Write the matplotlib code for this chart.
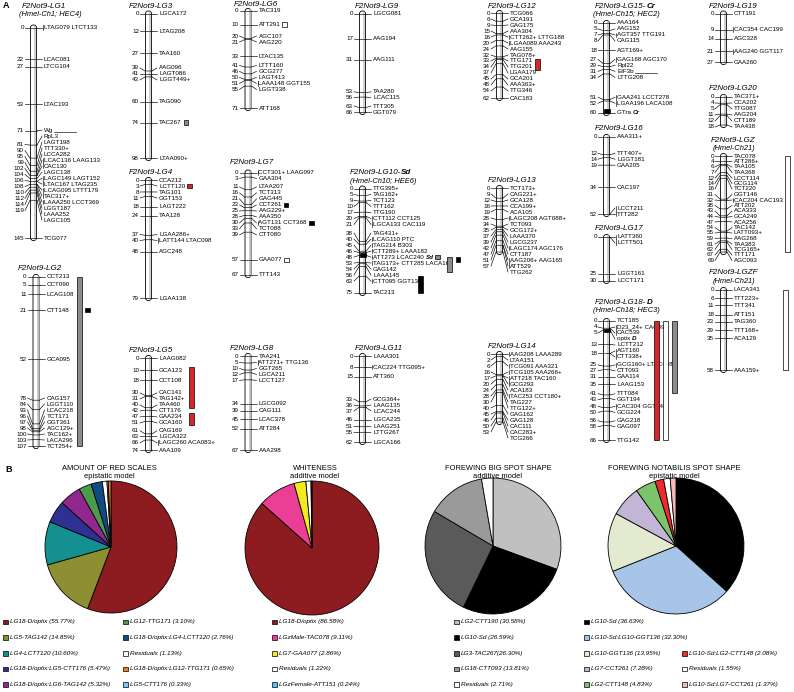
import matplotlib.pyplot as plt
from matplotlib.patches import FancyBboxPatch, Rectangle

plt.rcParams['font.family'] = ['Liberation Sans', 'DejaVu Sans']

# ---------------- linkage groups: (cM, marker) ----------------
# "|" marks a bold-italic suffix (locus name)
lg1 = [(0, 'LTAG079 LTCT133'), (22, 'LCAC081'), (27, 'LTCG104'), (53, 'LTAC193'), (71, 'Wg'),
       (81, 'RpL3'), (90, 'LAGT198'), (95, 'TTT330+'), (99, 'LCCA282'), (102, 'LCAC136 LAAG133'),
       (102, 'CAC130'), (104, 'LAGC138'), (106, 'LAGC149 LAGT152'), (106, 'LTAC167 LTAG235'),
       (108, 'LCAG095 LTTT179'), (108, 'TAC317+'), (110, 'LAAA250 LCCT369'), (112, 'LGGT187'),
       (114, 'LAAA252'), (119, 'LAGC105'), (145, 'TCG077')]
lg2 = [(0, 'CCT213'), (5, 'CCT090'), (11, 'LCAG108'), (21, 'CTT148'), (52, 'GCA095'), (78, 'CAG157'),
       (84, 'LGGT110'), (93, 'LCAC218'), (96, 'TCT171'), (97, 'GGT361'), (98, 'AGC129+'),
       (100, 'TAC162+'), (103, 'LACA296'), (107, 'TCT254+')]
lg3 = [(0, 'LGCA172'), (12, 'LTAG208'), (27, 'TAA160'), (39, 'AAG096'), (41, 'LAGT086'),
       (43, 'LGGT449+'), (60, 'TAG090'), (74, 'TAC267'), (98, 'LTAA090+')]
lg4 = [(0, 'CCA212'), (3, 'LCTT120'), (8, 'TAG101'), (11, 'GGT153'), (18, 'LAGT222'), (24, 'TAA128'),
       (37, 'LGAA286+'), (40, 'LATT144 LTAC098'), (48, 'AGC248'), (79, 'LGAA138')]
lg5 = [(0, 'LAAG082'), (10, 'GCA123'), (18, 'CCT108'), (30, 'CAC141'), (31, 'TAG142+'), (40, 'TAA460'),
       (42, 'CTT176'), (47, 'GAA234'), (51, 'GCA160'), (61, 'CAG169'), (63, 'LGCA322'),
       (66, 'LAGC260 ACA083+'), (74, 'AAA109')]
lg6 = [(0, 'TAC319'), (10, 'ATT291'), (20, 'AGC107'), (21, 'AAG220'), (33, 'LTAC135'), (41, 'LTTT160'),
       (46, 'GCG277'), (50, 'LAGT413'), (51, 'LAAA148 GGT155'), (55, 'LGGT338'), (71, 'ATT168')]
lg7 = [(0, 'CCT301+ LAAG097'), (3, 'GAA304'), (11, 'LTAA207'), (16, 'TCT313'), (21, 'GAG445'),
       (23, 'CCT261'), (25, 'AAG229+'), (28, 'AAA350'), (30, 'AGT131 CCT368'), (33, 'TCT088'),
       (39, 'CTT080'), (57, 'GAA077'), (67, 'TTT143')]
lg8 = [(0, 'TAA241'), (5, 'ATT271+ TTG136'), (10, 'GGT265'), (12, 'LGCA211'), (17, 'LCCT127'),
       (34, 'LGCG092'), (39, 'CAG111'), (45, 'LCAC378'), (52, 'ATT284'), (67, 'AAA298')]
lg9 = [(0, 'LGCG081'), (17, 'AAG194'), (31, 'AAG111'), (53, 'TAA280'), (56, 'LCAC115'), (63, 'TTT305'),
       (66, 'GGT079')]
lg10 = [(0, 'TTG395+'), (5, 'TAG162+'), (9, 'TCT123'), (10, 'TTT162'), (17, 'TTG190'),
        (20, 'CTT112 CCT125'), (21, 'LGCA133 CAC119'), (38, 'TAG431+'), (40, 'LCAG110 PTC'),
        (45, 'TAG214 B303'), (46, 'CTT289+ LAAA182'), (48, 'ATT273 LCAC240 |Sd'),
        (53, 'TAG173+ CTT285 LACA167'), (54, 'GAG142'), (56, 'LAAA145'), (63, 'CTT095 GGT136'),
        (75, 'TAC213')]
lg11 = [(0, 'LAAA301'), (8, 'CAC224 TTG095+'), (15, 'ATT360'), (33, 'GCG364+'), (36, 'LAAG135'),
        (37, 'LCAC244'), (46, 'LGCA235'), (51, 'LAAG251'), (55, 'LTTG267'), (62, 'LGCA166')]
lg12 = [(0, 'TCG066'), (6, 'GCA191'), (9, 'GAG175'), (15, 'AAA304'), (16, 'CTT262+ LTTG188'),
        (20, 'LGAA089 AAA243'), (24, 'AAG155'), (32, 'TAG078+'), (33, 'TTG171'), (34, 'TTG201'),
        (37, 'LGAA179'), (45, 'GCA201'), (48, 'AAA363+'), (54, 'TTG346'), (62, 'CAC183')]
lg13 = [(0, 'TCT173+'), (9, 'CAG221+'), (12, 'GCA128'), (16, 'CCA199+'), (19, 'ACA105'),
        (28, 'LAGC208 AGT088+'), (34, 'TCT093'), (35, 'GCG172+'), (37, 'LAAA370'), (39, 'LGCG237'),
        (42, 'LAGC174 AGC176'), (47, 'CTT187'), (51, 'AAG206+ AAG165'), (51, 'ATT529'), (57, 'TTG262')]
lg14 = [(0, 'AAG208 LAAA289'), (2, 'LTAA151'), (6, 'TCG091 AAA321'), (16, 'TCG105 AAA266+'),
        (17, 'ATT218 TAC160'), (17, 'GCG293'), (20, 'ACA183'), (24, 'TAC253 CCT180+'), (28, 'TAG227'),
        (30, 'TTG122+'), (40, 'GAG162'), (45, 'GAG128'), (46, 'CAC111'), (50, 'CAC283+'), (53, 'TCG266')]
lg15 = [(0, 'AAA164'), (5, 'AAG152'), (7, 'AGT357 TTG191'), (8, 'CAG115'), (18, 'AGT169+'),
        (27, 'GAG168 AGC170'), (29, 'Rpl22'), (31, 'EIF3b'), (34, 'LTTG208'), (51, 'GAA241 LCCT278'),
        (52, 'LGAA196 LACA108'), (60, 'GTra |Cr')]
lg16 = [(0, 'AAA311+'), (12, 'TTT407+'), (14, 'LGGT181'), (19, 'GAA205'), (34, 'CAC197'),
        (52, 'LCCT211'), (52, 'TTT282')]
lg17 = [(0, 'LATT360'), (0, 'LCTT501'), (25, 'LGGT161'), (30, 'LCCT171')]
lg18 = [(0, 'TCT185'), (4, 'D23_24+ CAC491'), (4, 'CAC539'), (5, 'optix |D'), (13, 'LCTT212'),
        (18, 'AGT160'), (18, 'CTT338+'), (25, 'GCG160+ LTAC498+'), (27, 'CTT093'), (31, 'GAA114'),
        (35, 'LAAG153'), (41, 'TTT084'), (43, 'GGT194'), (48, 'CAC304 GGT148'), (50, 'GCG224'),
        (56, 'GAG218'), (58, 'GAG097'), (66, 'TTG142')]
lg19 = [(0, 'CTT191'), (9, 'CAC354 CAC199'), (14, 'AGC328'), (21, 'AAG240 GGT117'), (27, 'GAA260')]
lg20 = [(0, 'TAC371+'), (4, 'CCA202'), (5, 'TTG087'), (11, 'AAG204'), (12, 'CTT189'), (18, 'TAA438')]
lgz = [(0, 'TAC078'), (4, 'ATT286+'), (6, 'TAA105'), (7, 'TAA368'), (12, 'LCCT114'), (14, 'GCG114'),
       (16, 'TCT220'), (31, 'GGT146'), (32, 'CAC204 CAC193'), (38, 'ATT202'), (43, 'ACA333'),
       (44, 'GCA249'), (47, 'ACA256'), (54, 'TAC142'), (55, 'LATT093+'), (59, 'AAG268'), (61, 'TAA383'),
       (62, 'TCG165+'), (67, 'TTT171'), (69, 'AGC093')]
lgzf = [(0, 'LACA341'), (6, 'TTT223+'), (11, 'TTT341'), (18, 'ATT151'), (23, 'TAG360'), (29, 'TTT168+'),
        (35, 'ACA129'), (58, 'AAA159+')]

# QTL intervals (group, from cM, to cM, trait) and single QTL peaks
qtl_bars = [('LG2', 0, 107, 'big'), ('LG5', 7, 40, 'red'), ('LG5', 44, 54, 'red'),
            ('LG10', 63, 75, 'notab'), ('LG10', 49, 60, 'big'),
            ('LG18', 0, 66, 'red'), ('LG18', 0, 66, 'white'), ('LG18', 0, 40, 'big'),
            ('LGZ', 0, 69, 'white'), ('LGZF', 0, 58, 'white')]
qtl_peaks = [('LG2', 21, 'notab'), ('LG10', 51, 'notab')]
# QTL drawn beside a run of marker names: (group, first marker, last marker, trait)
label_bars = [('LG12', 'TTG171', 'TTG201', 'red')]
# squares right after a marker name
marker_boxes = [('LG3', 'TAC267', 'big'), ('LG4', 'LCTT120', 'red'), ('LG6', 'ATT291', 'white'),
                ('LG7', 'CCT261', 'notab'), ('LG7', 'AGT131 CCT368', 'notab'), ('LG7', 'GAA077', 'white'),
                ('LG10', 'ATT273 LCAC240 |Sd', 'big')]
# candidate genes underlined with a leader line
gene_leaders = [('LG1', 'Wg'), ('LG15', 'EIF3b')]
# filled segments on the chromosome (major loci)
locus_fill = [('LG10', 46.5, 49.5), ('LG15', 57.5, 60), ('LG18', 4.3, 6.3)]

# ---------------- pie data ----------------
red_lab = ['LG18-D/optix', 'LG5-TAG142', 'LG4-LCTT120', 'LG18-D/optix:LG5-CTT176',
           'LG18-D/optix:LG6-TAG142', 'LG12-TTG171', 'LG18-D/optix:LG4-LCTT120', 'Residuals',
           'LG5-CTT176', 'LG18-D/optix:LG12-TTG171']
red_val = [55.77, 14.85, 10.60, 5.47, 5.32, 3.10, 2.76, 1.13, 0.33, 0.65]
red_col = ['#8c1c20', '#8e8e32', '#13908f', '#2e3192', '#92278f', '#4c9a4e', '#0f4c86', 'white',
           '#6dcff6', '#f07f1e']
red_leg = [[0, 1, 2, 3, 4], [5, 6, 7, 9, 8]]

wh_lab = ['LG18-D/optix', 'LGzMale-TAC078', 'LG7-GAA077', 'Residuals', 'LGzFemale-ATT151']
wh_val = [86.58, 9.11, 2.86, 1.22, 0.24]
wh_col = ['#8c1c20', '#ea3f95', '#f2ea1e', 'white', '#4fc3e8']
wh_leg = [[0, 1, 2, 3, 4]]

big_lab = ['LG2-CTT190', 'LG10-Sd', 'LG3-TAC267', 'LG18-CTT093', 'Residuals']
big_val = [30.58, 26.59, 26.30, 13.81, 2.71]
big_col = ['#c0c0c0', 'black', '#5a5a5a', '#9a9a9a', 'white']
big_leg = [[0, 1, 2, 3, 4]]

nb_lab = ['LG10-Sd', 'LG10-Sd:LG10-GGT136', 'LG10-GGT136', 'LG7-CCT261', 'LG2-CTT148',
          'LG10-Sd:LG2-CTT148', 'Residuals', 'LG10-Sd:LG7-CCT261']
nb_val = [36.63, 32.30, 13.95, 7.28, 4.83, 2.08, 1.55, 1.37]
nb_col = ['black', '#a7c5e8', '#e4ead0', '#c3b5d6', '#7dc36b', '#ee2a2a', 'white', '#f7b9b9']
nb_leg = [[0, 1, 2, 3, 4], [5, 6, 7]]

TRAIT_COL = {'red': '#d7262b', 'white': 'white', 'big': '#8c8c8c', 'notab': 'black'}

# ---------------- layout ----------------
W, H = 794, 692
FS = 4.5
TFS = 5.8
GAP = 6.0

fig = plt.figure(figsize=(W / 100, H / 100), dpi=100)
over = fig.add_axes([0, 0, 1, 1])
over.set_xlim(0, W)
over.set_ylim(H, 0)
over.axis('off')


def spread(pos, gap, lo, hi):
    # push labels apart, keeping them inside [lo, hi] where possible
    def place(c):
        span = (len(c) - 1) * gap
        s = sum(c) / len(c) - span / 2
        s = max(min(s, hi - span), lo)
        return s, s + span

    clusters = [[p] for p in pos]
    changed = True
    while changed:
        changed = False
        out = []
        for c in clusters:
            if out and place(c)[0] - place(out[-1])[1] < gap - 1e-9:
                out[-1] = out[-1] + c
                changed = True
                continue
            out.append(c)
        clusters = out
    res = []
    for c in clusters:
        s = place(c)[0]
        res += [s + i * gap for i in range(len(c))]
    return res


def rich_text(ax, x, y, base, suffix, size, **kw):
    t = ax.text(x, y, base, fontsize=size, va='center', ha='left', clip_on=False, **kw)
    last = t
    if suffix:
        last = ax.annotate(suffix, xy=(1, 0), xycoords=t, va='bottom', ha='left', fontsize=size,
                           fontweight='bold', fontstyle='italic', annotation_clip=False)
    return last


group_axes = {}
label_artists = {}


def draw_group(name, markers, cx, y0, y1, tx, ty, sub=None, sx=None, gap=GAP):
    key = name.replace('|', '').split('-')[0]
    length = max(m[0] for m in markers)
    sc = (y1 - y0) / length
    ax = fig.add_axes([(cx - 40) / W, 1 - y1 / H, 150 / W, (y1 - y0) / H])
    ax.set_xlim(-40, 110)
    ax.set_ylim(length, 0)
    ax.axis('off')
    group_axes[key] = (ax, sc)

    base, _, suf = ('F2Not9-' + name).partition('|')
    rich_text(over, tx, ty, base, suf, TFS, fontstyle='italic')
    if sub:
        over.text(sx, ty + 8.5, sub, fontsize=TFS - 0.4, fontstyle='italic', va='center')

    cap = 2.5 / sc
    ax.add_patch(FancyBboxPatch((-3, -cap), 6, length + 2 * cap,
                                boxstyle='round,pad=0,rounding_size=2.8', mutation_aspect=1 / sc,
                                fc='white', ec='black', lw=0.6, clip_on=False, zorder=2))
    ax.plot([1.5, 1.5], [-cap * 0.3, length + cap * 0.3], color='#c4c4c4', lw=1.1,
            zorder=2.2, clip_on=False)

    g = gap / sc
    cms = [m[0] for m in markers]
    uniq = sorted(set(cms))
    for p, yl in zip(uniq, spread(uniq, g, 0, length)):
        ax.text(-9.5, yl, f'{p:g}', fontsize=FS, ha='right', va='center', clip_on=False)
        ax.plot([-8.5, -3.5, 3.5], [yl, p, p], color='black', lw=0.45, clip_on=False, zorder=3)

    ry = spread(cms, g, 0, length)
    by_cm = {}
    for (p, lab), yr in zip(markers, ry):
        ax.plot([3.5, 8.5], [p, yr], color='black', lw=0.45, clip_on=False, zorder=3)
        base, _, suf = lab.partition('|')
        label_artists[(key, lab)] = rich_text(ax, 10.5, yr, base, suf, FS)
        by_cm.setdefault(p, []).append((yr, len(base.split())))
    for p, items in by_cm.items():
        if len(items) > 1 or items[0][1] > 1:
            ys = [i[0] for i in items]
            ax.plot([9.6, 9.6], [min(ys) - 2.3 / sc, max(ys) + 2.3 / sc], color='black', lw=0.45,
                    clip_on=False, zorder=3)


over.text(3, 6, 'A', fontsize=6.5, fontweight='bold', va='center')

groups = [
    ('LG1', lg1, 33.5, 27.5, 238, 22, 6, '(Hmel-Ch1; HEC4)', 19),
    ('LG2', lg2, 36, 277, 446, 18, 268, None, None),
    ('LG3', lg3, 148.5, 13.5, 158, 129, 6, None, None),
    ('LG4', lg4, 148.5, 180, 298, 129, 173, None, None),
    ('LG5', lg5, 148.5, 358, 450, 129, 350, None, None),
    ('LG6', lg6, 248, 11, 108, 234, 5, None, None),
    ('LG7', lg7, 248, 172.5, 275, 230, 163, None, None),
    ('LG8', lg8, 248, 356, 450, 230, 348, None, None),
    ('LG9', lg9, 362.5, 13.5, 112, 355, 6, None, None),
    ('LG10-|Sd', lg10, 362.5, 188.5, 293, 350, 173, '(Hmel-Ch10; HEE6)', 350),
    ('LG11', lg11, 362.5, 356, 442, 355, 348, None, None),
    ('LG12', lg12, 499.5, 13, 98, 488, 6, None, None),
    ('LG13', lg13, 499.5, 188, 252, 488, 180, None, None),
    ('LG14', lg14, 499.5, 354, 422, 488, 347, None, None),
    ('LG15-|Cr', lg15, 606.5, 23, 113, 595, 6, '(Hmel-Ch15; HEC2)', 593),
    ('LG16', lg16, 606.5, 137, 214, 595, 128, None, None),
    ('LG17', lg17, 606.5, 237, 281, 595, 228, None, None),
    ('LG18-|D', lg18, 606.5, 321, 440, 595, 302, '(Hmel-Ch18; HEC3)', 593),
    ('LG19', lg19, 723.5, 13.5, 62, 709, 6, None, None),
    ('LG20', lg20, 723.5, 97, 125, 709, 88, None, None),
    ('LGZ', lgz, 723.5, 156, 252, 711, 140, '(Hmel-Ch21)', 713),
    ('LGZF', lgzf, 723.5, 290, 370, 709, 273, '(Hmel-Ch21)', 713),
]
for name, mk, cx, y0, y1, tx, ty, sub, sx in groups:
    draw_group(name, mk, cx, y0, y1, tx, ty, sub, sx, gap=5.5 if name == 'LGZ' else GAP)

# x offsets (px from chromosome centre) of the QTL columns
bar_x = [41, 40, 40, 55, 84, 47, 56, 65, 61, 59]
peak_x = [49, 93]
for (g, a, b, tr), xo in zip(qtl_bars, bar_x):
    ax, sc = group_axes[g]
    ax.add_patch(Rectangle((xo, a), 5, b - a, fc=TRAIT_COL[tr], ec='black', lw=0.5,
                           clip_on=False, zorder=5))
for (g, p, tr), xo in zip(qtl_peaks, peak_x):
    ax, sc = group_axes[g]
    ax.add_patch(Rectangle((xo, p - 2.2 / sc), 4.5, 4.4 / sc, fc=TRAIT_COL[tr], ec='black', lw=0.5,
                           clip_on=False, zorder=5))
for g, a, b in locus_fill:
    ax, sc = group_axes[g]
    ax.add_patch(Rectangle((-3, a), 6, b - a, fc='black', ec='black', lw=0.5, clip_on=False, zorder=2.6))

# ---------------- panel B ----------------
over.text(5, 469, 'B', fontsize=6.5, fontweight='bold', va='center')


def draw_pie(cx, cy, r, vals, cols, title, model, tcx):
    ax = fig.add_axes([(cx - r - 1) / W, 1 - (cy + r + 1) / H, (2 * r + 2) / W, (2 * r + 2) / H])
    ax.pie(vals, colors=cols, startangle=90, counterclock=False, radius=1,
           wedgeprops=dict(edgecolor='black', linewidth=0.6))
    ax.set_xlim(-1.015, 1.015)
    ax.set_ylim(-1.015, 1.015)
    over.text(tcx, 469, title, fontsize=5.4, ha='center', va='center')
    over.text(tcx, 477, model, fontsize=5.4, ha='center', va='center')


def draw_legend(labels, vals, cols, order, col_x, tight=None):
    for ci, idx in enumerate(order):
        for ri, i in enumerate(idx):
            row = ri + (5 - len(idx) if ci > 0 else 0)
            y = 622 + 15.6 * row
            x = col_x[ci]
            over.add_patch(Rectangle((x, y - 2.3), 4.6, 4.6, fc=cols[i], ec='black', lw=0.5))
            sep = '' if tight == i else ' '
            over.text(x + 7, y, f'{labels[i]}{sep}({vals[i]:.2f}%)', fontsize=4.6, fontstyle='italic',
                      va='center')


draw_pie(111, 547, 66, red_val, red_col, 'AMOUNT OF RED SCALES', 'epistatic model', 109)
draw_pie(312, 548, 67, wh_val, wh_col, 'WHITENESS', 'additive model', 315)
draw_pie(493, 546, 68, big_val, big_col, 'FOREWING BIG SPOT SHAPE', 'additive model', 498)
draw_pie(676, 546, 68, nb_val, nb_col, 'FOREWING NOTABILIS SPOT SHAPE', 'epistatic model', 674)

draw_legend(red_lab, red_val, red_col, red_leg, [3, 123])
draw_legend(wh_lab, wh_val, wh_col, wh_leg, [272])
draw_legend(big_lab, big_val, big_col, big_leg, [454], tight=2)
draw_legend(nb_lab, nb_val, nb_col, nb_leg, [584, 682])

# marks that sit right after marker names need the text extents
fig.canvas.draw()
for g, lab, tr in marker_boxes:
    ax, sc = group_axes[g]
    bb = label_artists[(g, lab)].get_window_extent()
    x, y = ax.transData.inverted().transform((bb.x1 + 2, (bb.y0 + bb.y1) / 2))
    ax.add_patch(Rectangle((x, y - 2.2 / sc), 4.5, 4.4 / sc, fc=TRAIT_COL[tr], ec='black', lw=0.5,
                           clip_on=False, zorder=5))
for g, first, last, tr in label_bars:
    ax, sc = group_axes[g]
    b1 = label_artists[(g, first)].get_window_extent()
    b2 = label_artists[(g, last)].get_window_extent()
    inv = ax.transData.inverted()
    x, ytop = inv.transform((max(b1.x1, b2.x1) + 2, b1.y1))
    _, ybot = inv.transform((0, b2.y0))
    ax.add_patch(Rectangle((x, ytop), 4.5, ybot - ytop, fc=TRAIT_COL[tr], ec='black', lw=0.5,
                           clip_on=False, zorder=5))
for g, lab in gene_leaders:
    ax, sc = group_axes[g]
    bb = label_artists[(g, lab)].get_window_extent()
    inv = ax.transData.inverted()
    xa, ya = inv.transform((bb.x1 + 1, bb.y0 + 1))
    ax.plot([xa, xa + 22], [ya, ya], color='black', lw=0.45, clip_on=False, zorder=3)

fig.savefig('out.png', dpi=100)
